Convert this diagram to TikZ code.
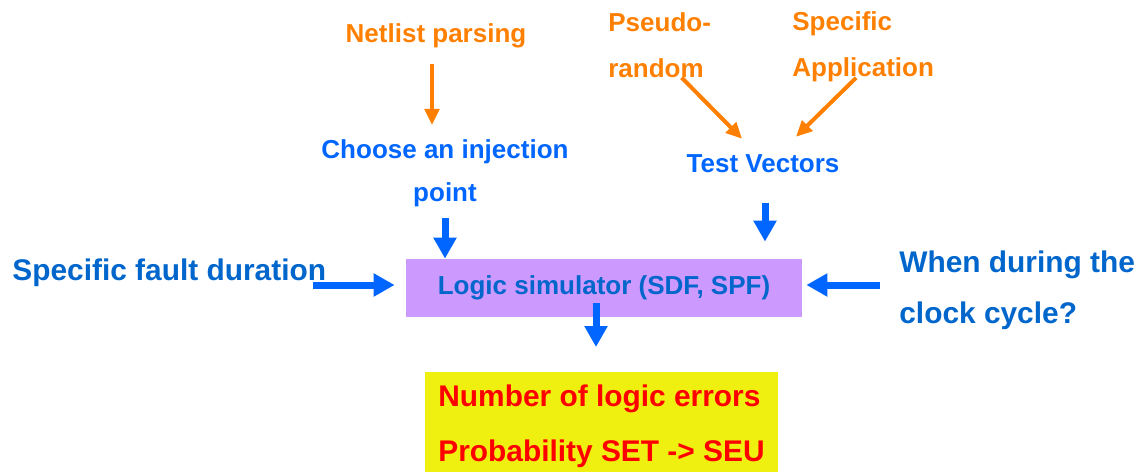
\documentclass[tikz,border=0pt]{standalone}
\usepackage{fontspec}
\setmainfont{Liberation Sans}
\usetikzlibrary{arrows.meta}
\definecolor{flowor}{RGB}{255,128,0}
\definecolor{flowbl}{RGB}{0,102,255}
\definecolor{txtbl}{RGB}{0,102,204}
\definecolor{simfill}{RGB}{204,153,255}
\definecolor{resfill}{RGB}{240,240,16}
\begin{document}
\begin{tikzpicture}[
  x=0.2mm, y=-0.2mm,
  olab/.style={text=flowor, inner sep=0pt, align=left, font=\fontsize{14.8}{26}\selectfont\bfseries},
  blab/.style={text=flowbl, inner sep=0pt, align=center, font=\fontsize{14.8}{24.4}\selectfont\bfseries},
  slab/.style={text=txtbl, inner sep=0pt, align=left, font=\fontsize{17}{28.9}\selectfont\bfseries},
  oarr/.style={draw=flowor, line width=0.8mm, -{Triangle[length=3.2mm, width=2.9mm]}},
  barr/.style={draw=flowbl, line width=1.4mm, -{Triangle[length=4.2mm, width=4.4mm]}}]
\useasboundingbox (0,0) rectangle (1140,471);
% sources
\node[olab, anchor=base] (netlist) at (436,42) {Netlist parsing};
\node[olab, anchor=base west] (pseudo) at (608,77) {Pseudo-\\random};
\node[olab, anchor=base west] (specapp) at (792,76) {Specific\\Application};
\node[blab, anchor=base] (choose) at (445,201) {Choose an injection\\point};
\node[blab, anchor=base] (test) at (763,172) {Test Vectors};
\node[slab, anchor=base west] (fault) at (12,280) {Specific fault duration};
\node[slab, anchor=base west] (when) at (899,323) {When during the\\clock cycle?};
% simulator and result
\node[fill=simfill, text=txtbl, minimum width=79.2mm, minimum height=11.6mm, font=\fontsize{14.8}{18}\selectfont\bfseries] (sim) at (604,288) {Logic simulator (SDF, SPF)};
\node[fill=resfill, text=red, anchor=north, align=left, minimum width=70.6mm, minimum height=21.6mm, font=\fontsize{17}{31.2}\selectfont\bfseries] (result) at (601.5,372) {Number of logic errors\\Probability SET -> SEU};
% orange arrows
\draw[oarr, shorten <=3.2mm, shorten >=2.8mm] ([xshift=-0.8mm]netlist.south) -- ([xshift=-0.8mm]netlist.south |- choose.north);
\draw[oarr] ([xshift=4.4mm]pseudo.south) -- ([xshift=-4.2mm, yshift=3mm]test.north);
\draw[oarr] ([xshift=-1.4mm, yshift=0.8mm]specapp.south) -- ([xshift=6.6mm, yshift=3.4mm]test.north);
% blue arrows
\draw[barr, shorten <=2.2mm] (choose.south) -- (choose.south |- sim.north);
\draw[barr, shorten <=6mm, shorten >=3.4mm] ([xshift=0.4mm]test.south) -- ([xshift=0.4mm]test.south |- sim.north);
\draw[barr, shorten >=2.2mm] ([xshift=-2.6mm, yshift=0.6mm]fault.east |- sim.west) -- ([yshift=0.6mm]sim.west);
\draw[barr, shorten >=0.8mm] ([xshift=-3.8mm, yshift=0.6mm]when.west |- sim.east) -- ([yshift=0.6mm]sim.east);
\draw[barr, shorten <=-2.8mm, shorten >=5mm] ([xshift=-1.6mm]sim.south) -- ([xshift=-1.6mm]sim.south |- result.north);
\end{tikzpicture}
\end{document}
